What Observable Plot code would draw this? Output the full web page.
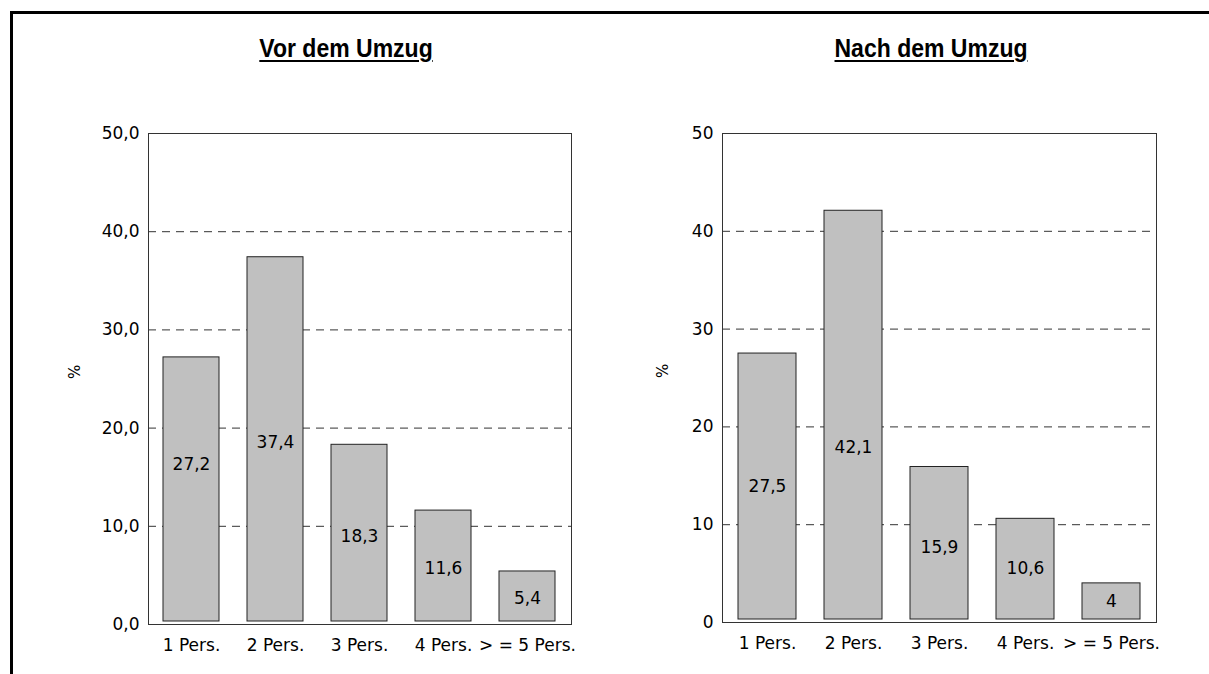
<!DOCTYPE html>
<html><head><meta charset="utf-8">
<script src="https://cdn.jsdelivr.net/npm/d3@7"></script>
<script src="https://cdn.jsdelivr.net/npm/@observablehq/plot@0.6"></script>
<style>
body{margin:0;background:#fff;width:1209px;height:674px;overflow:hidden;position:relative;font-family:"DejaVu Sans",sans-serif;}
#frame{position:absolute;left:10px;top:11px;width:1300px;height:800px;border-left:3px solid #000;border-top:3px solid #000;}
.title{position:absolute;top:36px;line-height:1;font-family:"Liberation Sans",Arial,sans-serif;font-weight:bold;font-size:25px;text-decoration:underline;text-decoration-thickness:2px;text-underline-offset:3px;transform:translateX(-50%) scaleX(0.92);white-space:nowrap;color:#000}
.chart{position:absolute;top:110px}
</style>
</head><body>
<div id="frame"></div>
<div class="title" style="left:346px">Vor dem Umzug</div>
<div class="title" style="left:931px">Nach dem Umzug</div>
<div id="left" class="chart" style="left:0px"></div>
<div id="right" class="chart" style="left:600px"></div>
<script>
const categories = ["1 Pers.", "2 Pers.", "3 Pers.", "4 Pers.", "> = 5 Pers."];
const vorValues = [27.2, 37.4, 18.3, 11.6, 5.4];
const nachValues = [27.5, 42.1, 15.9, 10.6, 4];
const vorLabelY = [16.3, 18.5, 9.0, 5.7, 2.65];
const nachLabelY = [13.9, 17.9, 7.7, 5.5, 2.1];
const yTicks = [0, 10, 20, 30, 40, 50];
const yLabel = "%";

function chart({values, labelY, fmtTick, fmtVal, marginLeft, marginRight, marginBottom, labelDx}) {
  const data = categories.map((c, i) => ({cat: c, v: values[i], ly: labelY[i]}));
  return Plot.plot({
    width: 600, height: 560, marginTop: 23, marginBottom, marginLeft, marginRight,
    style: {fontFamily: "DejaVu Sans", fontSize: "17px", color: "#000", background: "transparent"},
    x: {domain: categories, paddingInner: 0.33, paddingOuter: 0.165, label: null, tickSize: 0, tickPadding: 14},
    y: {domain: [0, 50], ticks: yTicks, tickFormat: fmtTick, label: null, tickSize: 0, tickPadding: 9},
    marks: [
      Plot.frame({stroke: "#333"}),
      Plot.ruleY(yTicks, {stroke: "#333", strokeDasharray: "8,6"}),
      Plot.barY(data, {x: "cat", y: "v", fill: "#c0c0c0", stroke: "#222", strokeWidth: 1, insetBottom: 3}),
      Plot.text(data, {x: "cat", y: "ly", text: d => fmtVal(d.v), fontSize: 17, fill: "#000"}),
      Plot.text([yLabel], {frameAnchor: "left", dx: labelDx, rotate: -90, fontSize: 15, fill: "#000"})
    ]
  });
}

const fmt1 = d => d.toFixed(1).replace(".", ",");
const fmtPlain = d => String(d).replace(".", ",");

document.getElementById("left").appendChild(chart({
  values: vorValues, labelY: vorLabelY, fmtTick: fmt1, fmtVal: fmt1,
  marginLeft: 148, marginRight: 29, marginBottom: 46, labelDx: -73
}));
document.getElementById("right").appendChild(chart({
  values: nachValues, labelY: nachLabelY, fmtTick: fmtPlain, fmtVal: fmtPlain,
  marginLeft: 122, marginRight: 44, marginBottom: 48, labelDx: -59
}));
</script>
</body></html>
